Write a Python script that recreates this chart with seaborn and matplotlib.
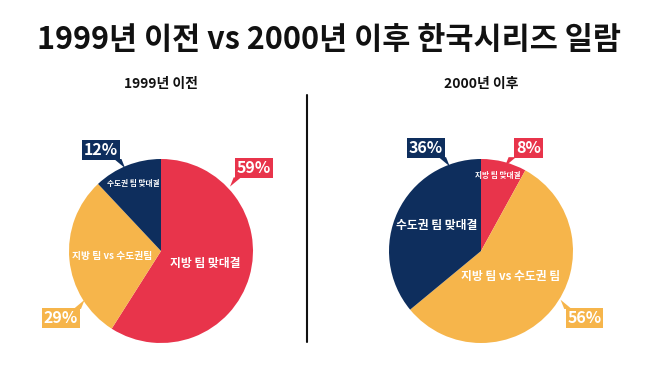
import matplotlib
matplotlib.use("Agg")
import matplotlib.pyplot as plt
import seaborn as sns
from matplotlib.patches import Polygon

sns.set_theme(style="white")
plt.rcParams['font.family'] = ['Noto Sans CJK KR', 'DejaVu Sans']

title = "1999년 이전 vs 2000년 이후 한국시리즈 일람"
panel_titles = ["1999년 이전", "2000년 이후"]
categories = ["지방 팀 맞대결", "지방 팀 vs 수도권팀", "수도권 팀 맞대결"]
inner_labels_before = ["지방 팀 맞대결", "지방 팀 vs 수도권팀", "수도권 팀 맞대결"]
inner_labels_after = ["지방 팀 맞대결", "지방 팀 vs 수도권 팀", "수도권 팀 맞대결"]
before = [59, 29, 12]
after = [8, 56, 36]
colors = ["#E8344B", "#F6B54B", "#0E2E5D"]

W, H = 658, 369
R = 92  # pie radius in px
fig = plt.figure(figsize=(W / 100, H / 100), dpi=100)
fig.patch.set_facecolor("white")

L = 1.75  # axes half-extent in data units


def make_ax(cx, cy):
    half = R * L
    ax = fig.add_axes([(cx - half) / W, (H - cy - half) / H, 2 * half / W, 2 * half / H])
    ax.axis("off")
    return ax


def callout(ax, x, y, text, color, tail):
    t = ax.text(x, y, text, ha="center", va="center", color="white",
                fontsize=11.5, fontweight="bold", zorder=5,
                bbox=dict(boxstyle="square,pad=0.12", fc=color, ec="none"))
    hw, hh = 0.22, 0.10
    if tail == "br":
        pts = [(x + hw - 0.08, y - hh), (x + hw, y - hh), (x + hw + 0.04, y - hh - 0.1)]
    elif tail == "bl":
        pts = [(x - hw + 0.08, y - hh), (x - hw, y - hh), (x - hw - 0.04, y - hh - 0.1)]
    elif tail == "tr":
        pts = [(x + hw - 0.08, y + hh), (x + hw, y + hh), (x + hw + 0.04, y + hh + 0.1)]
    else:  # "tl"
        pts = [(x - hw + 0.08, y + hh), (x - hw, y + hh), (x - hw - 0.04, y + hh + 0.1)]
    ax.add_patch(Polygon(pts, closed=True, fc=color, ec="none", zorder=4))
    return t


def draw_pie(ax, values, inner, inner_pos, inner_sizes, call_pos, tails):
    ax.pie(values, colors=colors, startangle=90, counterclock=False, radius=1,
           wedgeprops=dict(linewidth=0))
    ax.set_xlim(-L, L)
    ax.set_ylim(-L, L)
    ax.set_aspect("equal")
    for lab, (x, y), fs in zip(inner, inner_pos, inner_sizes):
        ax.text(x, y, lab, ha="center", va="center", color="white",
                fontsize=fs, fontweight="bold")
    for v, c, (x, y), tl in zip(values, colors, call_pos, tails):
        callout(ax, x, y, f"{v}%", c, tl)


axL = make_ax(161, 251)
draw_pie(axL, before, inner_labels_before,
         [(0.48, -0.13), (-0.53, -0.05), (-0.30, 0.73)],
         [8.5, 7.0, 5.5],
         [(1.01, 0.90), (-1.09, -0.73), (-0.65, 1.10)],
         ["bl", "tr", "br"])

axR = make_ax(481, 251)
draw_pie(axR, after, inner_labels_after,
         [(0.18, 0.82), (0.32, -0.28), (-0.48, 0.28)],
         [5.5, 8.5, 8.5],
         [(0.52, 1.12), (1.125, -0.73), (-0.60, 1.12)],
         ["bl", "tl", "br"])

fig.text(329 / W, 1 - 40 / H, title, ha="center", va="center",
         fontsize=22, fontweight="heavy", color="#111111")
fig.text(161 / W, 1 - 84 / H, panel_titles[0], ha="center", va="center",
         fontsize=10, fontweight="bold", color="#111111")
fig.text(481 / W, 1 - 84 / H, panel_titles[1], ha="center", va="center",
         fontsize=10, fontweight="bold", color="#111111")

fig.add_artist(plt.Line2D([307 / W, 307 / W], [1 - 95 / H, 1 - 342 / H],
                          color="#111111", linewidth=1.5))

fig.savefig("out.png", dpi=100, facecolor="white")
